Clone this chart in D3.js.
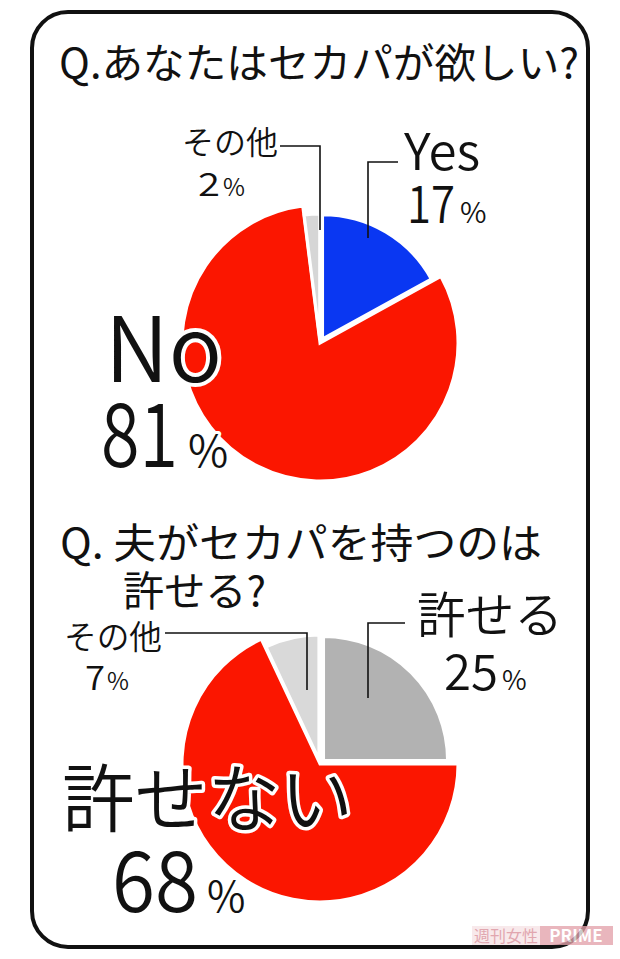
<!DOCTYPE html>
<html>
<head>
<meta charset="utf-8">
<script src="https://cdn.jsdelivr.net/npm/d3@7"></script>
<style>
  html, body { margin: 0; padding: 0; background: #fff; }
  svg { display: block; }
  text { font-family: "Noto Sans CJK JP", "Noto Sans", sans-serif; fill: #111; }
  .lbl { font-weight: 350; }
</style>
</head>
<body>
<svg id="chart" width="620" height="959"></svg>
<script>
// ---- data ----
const q1Title = "Q.あなたはセカパが欲しい?";
const q1Labels = ["Yes", "No", "その他"];
const q1Values = [17, 81, 2];
const q1Colors = ["#0a37f2", "#fb1600", "#d6d6d6"];

const q2TitleLines = ["Q. 夫がセカパを持つのは", "許せる?"];
const q2Labels = ["許せる", "許せない", "その他"];
const q2Values = [25, 68, 7];
const q2Colors = ["#b2b2b2", "#fb1600", "#d9d9d9"];

const watermarkA = "週刊女性";
const watermarkB = "PRIME";

// ---- drawing ----
const svg = d3.select("#chart");

svg.append("rect")
  .attr("x", 32).attr("y", 12).attr("width", 556).attr("height", 935)
  .attr("rx", 36).attr("ry", 36)
  .attr("fill", "none").attr("stroke", "#111").attr("stroke-width", 4);

const pie = d3.pie().sort(null).value(d => d.v);

function drawPie(cx, cy, labels, values, colors, mainIdx) {
  const data = labels.map((l, i) => ({ l, v: values[i], c: colors[i], i }));
  const arcs = pie(data);
  const g = svg.append("g").attr("transform", `translate(${cx},${cy})`);
  const bigR = 138, smallR = 124, explode = 5;
  g.selectAll("path").data(arcs).join("path")
    .attr("transform", d => {
      if (d.data.i === mainIdx) return null;
      const a = (d.startAngle + d.endAngle) / 2;
      return `translate(${Math.sin(a) * explode},${-Math.cos(a) * explode})`;
    })
    .attr("d", d => d3.arc().innerRadius(0)
      .outerRadius(d.data.i === mainIdx ? bigR : smallR)(d))
    .attr("fill", d => d.data.c)
    .attr("stroke", "#fff").attr("stroke-width", 3).attr("stroke-linejoin", "miter");
  return arcs;
}

function txt(x, y, s, size, opts = {}) {
  const t = svg.append("text").attr("class", "lbl").attr("x", x).attr("y", y)
    .attr("font-size", size)
    .attr("text-anchor", opts.anchor || "start")
    .text(s);
  if (opts.w) t.attr("textLength", opts.w).attr("lengthAdjust", "spacingAndGlyphs");
  if (opts.halo) {
    t.attr("stroke", "#fff").attr("stroke-width", opts.halo)
     .attr("paint-order", "stroke").attr("stroke-linejoin", "round");
  }
  return t;
}

// number + small percent sign
function pct(x, y, value, size, w, pSize, gap, halo) {
  txt(x, y, String(value), size, { w, halo });
  txt(x + w + gap, y, "%", pSize, { halo });
}

function leader(points) {
  svg.append("path")
    .attr("d", d3.line()(points))
    .attr("fill", "none").attr("stroke", "#111").attr("stroke-width", 1.6);
}

// ---- Q1 ----
svg.append("text").attr("x", 59).attr("y", 78).attr("font-size", 41)
  .attr("textLength", 520).attr("lengthAdjust", "spacingAndGlyphs")
  .text(q1Title);

drawPie(320, 343, q1Labels, q1Values, q1Colors, 1);

leader([[280, 146], [320, 146], [320, 230]]);
leader([[398, 162], [368, 162], [368, 238]]);

txt(278, 154, q1Labels[2], 32, { anchor: "end" });
pct(198, 196, q1Values[2], 32, 22, 24, 3);
txt(404, 170, q1Labels[0], 50, { w: 76 });
pct(407, 223, q1Values[0], 52, 48, 29, 5);
txt(105, 382, q1Labels[1], 90, { halo: 8, w: 117 });
pct(101, 467, q1Values[1], 88, 77, 44, 10, 6);

// ---- Q2 ----
svg.append("text").attr("x", 60).attr("y", 558).attr("font-size", 41)
  .attr("textLength", 482).attr("lengthAdjust", "spacingAndGlyphs")
  .text(q2TitleLines[0]);
svg.append("text").attr("x", 123).attr("y", 606).attr("font-size", 41)
  .attr("textLength", 143).attr("lengthAdjust", "spacingAndGlyphs")
  .text(q2TitleLines[1]);

drawPie(320, 764, q2Labels, q2Values, q2Colors, 1);

leader([[405, 623], [368, 623], [368, 698]]);
leader([[165, 633], [307, 633], [307, 690]]);

txt(417, 633, q2Labels[0], 49, { w: 146 });
pct(444, 690, q2Values[0], 49, 54, 27, 4);
txt(64, 649, q2Labels[2], 33, { w: 98 });
pct(85, 690, q2Values[2], 34, 20, 24, 2);
txt(62, 826, q2Labels[1], 74, { halo: 7, w: 291 });
pct(112, 912, q2Values[1], 84, 86, 42, 9, 6);

// ---- watermark ----
const wm = svg.append("g").attr("opacity", 0.78);
wm.append("rect").attr("x", 472).attr("y", 926).attr("width", 68).attr("height", 19).attr("fill", "#f7e3e6");
wm.append("rect").attr("x", 540).attr("y", 926).attr("width", 73).attr("height", 19).attr("fill", "#e3a2ab");
wm.append("text").attr("x", 506).attr("y", 942).attr("text-anchor", "middle")
  .attr("font-size", 16).style("fill", "#d98e99").text(watermarkA);
wm.append("text").attr("x", 576).attr("y", 942).attr("text-anchor", "middle")
  .attr("font-size", 17).attr("font-weight", "bold").style("fill", "#fff").text(watermarkB);
</script>
</body>
</html>
